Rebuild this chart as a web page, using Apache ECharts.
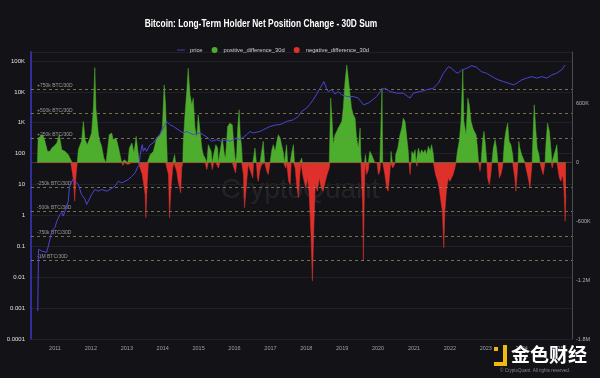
<!doctype html>
<html>
<head>
<meta charset="utf-8">
<title>Bitcoin: Long-Term Holder Net Position Change - 30D Sum</title>
<style>
    html, body { margin: 0; padding: 0; background: #131317; }
    #chart { width: 600px; height: 378px; }
</style>
</head>
<body>
<div id="chart"></div>
<script src="https://cdn.jsdelivr.net/npm/echarts@6/dist/echarts.min.js"></script>
<script>
// 30d net position change of long-term holders, thousand BTC (dates as decimal years)
var netYears = [
    2010.51, 2010.53, 2010.60, 2010.66, 2010.72, 2010.79, 2010.86, 2010.91, 2010.97,
    2011.05, 2011.12, 2011.19, 2011.28, 2011.37, 2011.44, 2011.48, 2011.52, 2011.55, 2011.58, 2011.62, 2011.65, 2011.70, 2011.74, 2011.79, 2011.84, 2011.90, 2011.97,
    2012.02, 2012.07, 2012.11, 2012.14, 2012.21, 2012.25, 2012.30, 2012.36, 2012.42, 2012.46, 2012.51, 2012.58, 2012.62, 2012.70, 2012.76, 2012.81, 2012.86, 2012.89, 2012.93, 2012.98,
    2013.03, 2013.07, 2013.14, 2013.20, 2013.26, 2013.32, 2013.35, 2013.37, 2013.43, 2013.51, 2013.53, 2013.57, 2013.60, 2013.65, 2013.74, 2013.83, 2013.92, 2013.99,
    2014.04, 2014.08, 2014.11, 2014.13, 2014.16, 2014.19, 2014.23, 2014.28, 2014.31, 2014.33, 2014.36, 2014.39, 2014.43, 2014.50, 2014.53, 2014.56, 2014.57, 2014.62, 2014.67, 2014.71, 2014.76, 2014.81, 2014.85, 2014.90, 2014.95, 2014.99,
    2015.04, 2015.09, 2015.13, 2015.18, 2015.23, 2015.27, 2015.35, 2015.38, 2015.42, 2015.48, 2015.53, 2015.55, 2015.60, 2015.66, 2015.72, 2015.75, 2015.81, 2015.87, 2015.94, 2015.99,
    2016.03, 2016.06, 2016.09, 2016.13, 2016.16, 2016.20, 2016.22, 2016.25, 2016.28, 2016.34, 2016.38, 2016.40, 2016.45, 2016.51, 2016.53, 2016.57, 2016.61, 2016.64, 2016.66, 2016.71, 2016.76, 2016.77, 2016.80, 2016.84, 2016.90, 2016.94, 2016.99,
    2017.04, 2017.08, 2017.13, 2017.18, 2017.22, 2017.27, 2017.31, 2017.36, 2017.39, 2017.43, 2017.45, 2017.48, 2017.51, 2017.55, 2017.58, 2017.60, 2017.64, 2017.67, 2017.69, 2017.73, 2017.78, 2017.82, 2017.85, 2017.87, 2017.89, 2017.90, 2017.94, 2017.99,
    2018.04, 2018.08, 2018.13, 2018.17, 2018.21, 2018.25, 2018.31, 2018.36, 2018.42, 2018.47, 2018.53, 2018.58, 2018.64, 2018.66, 2018.68, 2018.72, 2018.75, 2018.80, 2018.85, 2018.89, 2018.94, 2018.99,
    2019.03, 2019.08, 2019.13, 2019.17, 2019.22, 2019.26, 2019.31, 2019.36, 2019.40, 2019.45, 2019.50, 2019.52, 2019.54, 2019.57, 2019.59, 2019.62, 2019.64, 2019.65, 2019.67, 2019.68, 2019.73, 2019.75, 2019.77, 2019.82, 2019.87, 2019.91, 2019.97,
    2020.01, 2020.05, 2020.07, 2020.09, 2020.11, 2020.13, 2020.19, 2020.24, 2020.28, 2020.33, 2020.35, 2020.36, 2020.40, 2020.41, 2020.45, 2020.48, 2020.49, 2020.55, 2020.61, 2020.66, 2020.70, 2020.75, 2020.80, 2020.84, 2020.86, 2020.89, 2020.92, 2020.94, 2020.98,
    2021.03, 2021.06, 2021.08, 2021.10, 2021.12, 2021.17, 2021.21, 2021.26, 2021.31, 2021.35, 2021.40, 2021.45, 2021.49, 2021.54, 2021.56, 2021.60, 2021.66, 2021.70, 2021.75, 2021.79, 2021.83, 2021.86, 2021.91, 2021.96,
    2022.00, 2022.05, 2022.09, 2022.14, 2022.17, 2022.21, 2022.26, 2022.31, 2022.36, 2022.39, 2022.45, 2022.50, 2022.54, 2022.59, 2022.64, 2022.68, 2022.73, 2022.77, 2022.80, 2022.84, 2022.87, 2022.91, 2022.95, 2022.99,
    2023.03, 2023.05, 2023.10, 2023.14, 2023.17, 2023.21, 2023.26, 2023.30, 2023.34, 2023.38, 2023.42, 2023.46, 2023.48, 2023.52, 2023.56, 2023.61, 2023.65, 2023.70, 2023.75, 2023.77, 2023.81, 2023.84, 2023.88, 2023.90, 2023.92, 2023.95,
    2024.00, 2024.04, 2024.09, 2024.16, 2024.20, 2024.23, 2024.27, 2024.29, 2024.32, 2024.35, 2024.39, 2024.43, 2024.48, 2024.51, 2024.57, 2024.60, 2024.65, 2024.68, 2024.72, 2024.77, 2024.82, 2024.84, 2024.85, 2024.88, 2024.93, 2024.98,
    2025.01, 2025.05, 2025.09, 2025.14, 2025.18, 2025.21, 2025.23
];
var netK = [
    0, 251, 268, 285, 217, 115, 115, 149, 166,
    200, 285, 132, 115, 81, 30, 0, -190, -393, -156, 0, 132, 183, 217, 420, 234, 183, 251,
    302, 556, 969, 556, 285, 217, 166, 47, 0, 115, 285, 302, 234, 251, 166, 81, 0, -30, 30, 20,
    -20, 149, 200, 100, 268, 81, 0, -54, -122, -325, -563, -190, 0, 81, 115, 251, 285, 353,
    793, 590, 217, 0, -122, -563, -258, -54, 0, 81, 0, -88, -190, -308, -54, 0, 183, 488, 725, 963, 692, 590, 658, 353, 251, 488,
    319, 149, 81, 47, -71, 183, 115, -71, 81, 183, 149, -54, 115, 251, 81, 47, 369, 403, 386, 149,
    -105, 81, 353, 539, 285, 150, 0, -122, -461, -190, -20, 0, -88, -156, 0, 149, 0, -156, -190, -71, -20, 0, 217, 0, -88, -122, 0,
    132, 183, 115, 217, 285, 251, 183, 98, 0, -54, 183, 0, -190, -224, 0, 115, 183, 0, -54, -224, -357, -122, 0, 47, 0, -122, -190, -258,
    -156, -325, -732, -1207, -664, -224, -292, -156, -258, -292, -190, -122, -54, 0, 658, 420, 183, 285, 319, 353, 386, 420,
    556, 827, 997, 860, 692, 556, 488, 454, 251, 149, 353, 81, 0, -427, -1004, -258, 0, 81, 0, -122, -71, 0, 115, 81, 98, 0, 0,
    -122, -88, 0, 0, 760, 0, -122, -258, -292, -88, 0, 115, 0, -54, -37, 0, 81, 149, 285, 353, 454, 420, 251, 115, 0, -122, 0, 115, 81,
    132, 0, -37, 0, 149, 81, 132, 98, 132, 81, 166, 115, 183, 81, 0, -122, -190, -258, -393, -495, -868, -495, -258, -156,
    -190, -207, -122, -54, 0, 115, 217, 420, 946, 420, 285, 658, 590, 420, 353, 319, 285, 149, 0, -88, 0, 217, 319, 183,
    0, -156, -224, -122, 0, 149, 234, 149, 0, -156, -122, -54, 0, 217, 319, 403, 217, 183, 81, 0, -156, -292, -88, 0, 217, 149,
    81, 47, 0, -122, -190, -258, -88, 0, 319, 590, 353, 149, 81, 0, -88, -122, 0, 217, 403, 319, 115, 0, -54, 0, 115, 183,
    0, -156, -190, -122, -292, -597, -325
];

// BTC price, USD
var priceYears = [
    2010.52, 2010.54, 2010.63, 2010.77, 2010.86, 2010.91,
    2011.00, 2011.05, 2011.14, 2011.19, 2011.23, 2011.31, 2011.37, 2011.40, 2011.44, 2011.49, 2011.56, 2011.65, 2011.74, 2011.84, 2011.88, 2011.93,
    2012.02, 2012.11, 2012.21, 2012.30, 2012.44, 2012.53, 2012.67, 2012.76, 2012.86, 2012.95,
    2013.04, 2013.14, 2013.23, 2013.29, 2013.35, 2013.37, 2013.43, 2013.46, 2013.51, 2013.55, 2013.65, 2013.74, 2013.83, 2013.92,
    2014.02, 2014.11, 2014.16, 2014.20, 2014.30, 2014.43, 2014.57, 2014.67, 2014.85,
    2015.04, 2015.13, 2015.27, 2015.36, 2015.50, 2015.64, 2015.78, 2015.87, 2015.97,
    2016.06, 2016.15, 2016.34, 2016.43, 2016.52, 2016.71, 2016.80, 2016.90, 2016.99,
    2017.18, 2017.27, 2017.45, 2017.64, 2017.78, 2017.87,
    2018.01, 2018.10, 2018.19, 2018.29, 2018.38, 2018.44, 2018.49, 2018.56, 2018.61, 2018.71, 2018.80, 2018.89, 2018.99,
    2019.13, 2019.31, 2019.45, 2019.59, 2019.73, 2019.77, 2019.96,
    2020.10, 2020.19, 2020.33, 2020.52, 2020.70, 2020.89, 2020.98,
    2021.17, 2021.35, 2021.54, 2021.68, 2021.82, 2021.96,
    2022.05, 2022.14, 2022.23, 2022.33, 2022.47, 2022.61, 2022.74, 2022.88,
    2023.02, 2023.21, 2023.35, 2023.49, 2023.63, 2023.77, 2023.87,
    2024.00, 2024.14, 2024.28, 2024.42, 2024.56, 2024.70, 2024.84, 2024.97,
    2025.11, 2025.21
];
var priceUsd = [
    0.0008, 0.08, 0.07, 0.064, 0.17, 0.31,
    0.41, 0.65, 1.07, 1.25, 0.95, 1.77, 2.9, 7.8, 8.8, 14.5, 12.8, 10, 4.75, 3.3, 2.26, 2.9,
    4.75, 6.9, 6.1, 6.9, 6.1, 6.9, 8.8, 12.8, 11.3, 12.8,
    14.5, 18.5, 23.8, 34.6, 44, 93, 195, 119, 153, 119, 195, 221, 321, 410,
    675, 1100, 1250, 862, 760, 594, 465, 524, 410,
    465, 410, 321, 249, 283, 249, 283, 249, 283,
    321, 283, 410, 524, 465, 524, 594, 675, 760,
    862, 862, 1100, 1250, 1600, 2320,
    2980, 4000, 5500, 8500, 13200, 16800, 21500, 13200, 10200, 11600, 8500, 10200, 8000,
    7050, 7050, 6260, 3810, 4320, 4870, 7050,
    11600, 13200, 10200, 9070, 9070, 6260, 9070,
    10200, 11600, 13200, 19100, 40100, 65500,
    58200, 45100, 40100, 51300, 58200, 70000, 63000, 45100,
    40100, 29500, 24400, 21500, 19100, 16800, 19100,
    24400, 27700, 31200, 27700, 31200, 27700, 35300, 40100,
    51300, 74300
];

// dashed reference levels (BTC / 30D)
var levelValues = [750000, 500000, 250000, -250000, -500000, -750000, -1000000];
var levelLabels = ['+750k BTC/30D', '+500k BTC/30D', '+250k BTC/30D', '-250k BTC/30D', '-500k BTC/30D', '-750k BTC/30D', '-1M BTC/30D'];

// left log-axis tick labels, keyed by power of ten
var logTickLabels = {'5': '100K', '4': '10K', '3': '1K', '2': '100', '1': '10', '0': '1', '-1': '0.1', '-2': '0.01', '-3': '0.001', '-4': '0.0001'};

var xStart = 2010.331, xEnd = 2025.401;

function yearToTime(y) {
    var yr = Math.floor(y);
    var a = Date.UTC(yr, 0, 1), b = Date.UTC(yr + 1, 0, 1);
    return a + (y - yr) * (b - a);
}

var posData = [], negData = [], priceData = [];
for (var i = 0; i < netYears.length; i++) {
    var t = yearToTime(netYears[i]);
    var v = netK[i] * 1000;
    posData.push([t, v > 0 ? v : 0]);
    negData.push([t, v < 0 ? v : 0]);
}
for (var j = 0; j < priceYears.length; j++) {
    priceData.push([yearToTime(priceYears[j]), priceUsd[j]]);
}

var myChart = echarts.init(document.getElementById('chart'));
var option = {
    backgroundColor: '#131317',
    useUTC: true,
    animation: false,
    textStyle: { fontFamily: 'Liberation Sans, Arial, sans-serif' },
    graphic: [
        {
            type: 'text', x: 261, y: 24, scaleX: 0.76, z: 10,
            style: {
                text: 'Bitcoin: Long-Term Holder Net Position Change - 30D Sum',
                fill: '#ffffff', font: 'bold 11px "Liberation Sans", Arial, sans-serif',
                textAlign: 'center', textVerticalAlign: 'middle'
            }
        },
        {
            type: 'text', x: 300, y: 190, z: 0, silent: true,
            style: {
                text: 'CryptoQuant', fill: 'rgba(255,255,255,0.07)',
                font: '28px "Liberation Sans", Arial, sans-serif',
                textAlign: 'center', textVerticalAlign: 'middle'
            }
        },
        { type: 'rect', shape: { x: 494, y: 347, width: 4, height: 4 }, style: { fill: '#f0b90b' }, z: 10 },
        { type: 'rect', shape: { x: 503, y: 345, width: 4, height: 21 }, style: { fill: '#f0b90b' }, z: 10 },
        { type: 'rect', shape: { x: 494, y: 362, width: 13, height: 4 }, style: { fill: '#f0b90b' }, z: 10 },
        {
            type: 'text', x: 511, y: 355, z: 10,
            style: {
                text: '金色财经', fill: '#ffffff',
                font: 'bold 19px "Noto Sans CJK SC", sans-serif',
                textVerticalAlign: 'middle'
            }
        },
        {
            type: 'text', x: 535, y: 371, z: 10,
            style: {
                text: '© CryptoQuant. All rights reserved.', fill: '#8a8a8a',
                font: '4.5px "Liberation Sans", Arial, sans-serif',
                textAlign: 'center', textVerticalAlign: 'middle'
            }
        }
    ],
    legend: {
        top: 42,
        left: 172,
        itemGap: 9,
        itemWidth: 8,
        itemHeight: 6,
        textStyle: { color: '#d0d0d0', fontSize: 5.8 },
        data: [
            { name: 'price', icon: 'path://M0,0 L10,0 L10,1 L0,1 Z' },
            { name: 'positive_difference_30d', icon: 'circle' },
            { name: 'negative_difference_30d', icon: 'circle' }
        ]
    },
    grid: { left: 31, right: 28, top: 52, bottom: 39 },
    xAxis: {
        type: 'time',
        min: yearToTime(xStart),
        max: yearToTime(xEnd),
        minInterval: 365 * 86400000,
        maxInterval: 366 * 86400000,
        axisLine: { lineStyle: { color: '#3a3a40' } },
        axisTick: { show: false },
        splitLine: { show: false },
        axisLabel: {
            color: '#a0a0a0', fontSize: 5.5, margin: 6,
            showMinLabel: false, showMaxLabel: false,
            formatter: function (val) { return String(new Date(val).getUTCFullYear()); }
        }
    },
    yAxis: [{
        type: 'log',
        logBase: 10,
        min: 0.0001,
        max: Math.pow(10, 5.29),
        position: 'left',
        axisLine: { show: true, lineStyle: { color: '#4036c4', width: 1.5 } },
        axisTick: { show: false },
        splitLine: { show: true, lineStyle: { color: '#202026', width: 1 } },
        axisLabel: {
            color: '#e0e0e0', fontSize: 6, margin: 6, showMaxLabel: false,
            formatter: function (v) {
                var e = Math.round(Math.log(v) / Math.LN10);
                return logTickLabels[String(e)] || '';
            }
        }
    }, {
        type: 'value',
        min: -1800000,
        max: 1129000,
        interval: 600000,
        position: 'right',
        axisLine: { show: true, lineStyle: { color: '#4a4a55', width: 1 } },
        axisTick: { show: false },
        splitLine: { show: false },
        axisLabel: {
            color: '#b0b0b0', fontSize: 5.5, margin: 4, showMaxLabel: false,
            formatter: function (v) {
                if (v === 0) return '0';
                if (Math.abs(v) >= 1000000) return (v / 1000000) + 'M';
                return (v / 1000) + 'K';
            }
        }
    }],
    series: [{
        name: 'price',
        type: 'line',
        yAxisIndex: 0,
        data: priceData,
        symbol: 'none',
        color: '#4b44d6',
        lineStyle: { width: 1, color: '#4b44d6' },
        z: 5
    }, {
        name: 'positive_difference_30d',
        type: 'line',
        yAxisIndex: 1,
        data: posData,
        symbol: 'none',
        color: '#4cae2c',
        lineStyle: { width: 0.5, color: '#4cae2c' },
        areaStyle: { color: '#4cae2c', opacity: 1 },
        z: 2,
        markLine: {
            silent: true,
            symbol: 'none',
            lineStyle: { color: '#8c8c5c', type: [3, 3], width: 0.8 },
            label: { position: 'insideStartTop', color: '#9a9a9a', fontSize: 5, distance: [6, 1] },
            data: levelValues.map(function (v, k) {
                return { yAxis: v, label: { formatter: levelLabels[k] } };
            })
        }
    }, {
        name: 'negative_difference_30d',
        type: 'line',
        yAxisIndex: 1,
        data: negData,
        symbol: 'none',
        color: '#e0302c',
        lineStyle: { width: 0.5, color: '#e0302c' },
        areaStyle: { color: '#e0302c', opacity: 1 },
        z: 2
    }]
};
myChart.setOption(option);
</script>
</body>
</html>
